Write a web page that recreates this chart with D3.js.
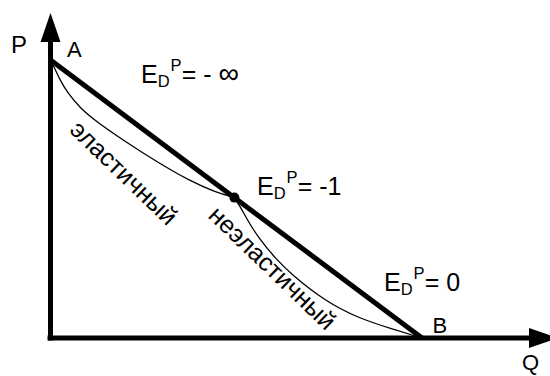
<!DOCTYPE html>
<html>
<head>
<meta charset="utf-8">
<script src="https://cdn.jsdelivr.net/npm/d3@7"></script>
<style>
  html, body { margin: 0; padding: 0; background: #fff; }
  svg { display: block; }
  text { font-family: "Liberation Sans", Arial, sans-serif; fill: #000; }
</style>
</head>
<body>
<svg id="chart" width="550" height="376"></svg>
<script>
// ---- data (model units: Q along x, P along y) ----
const demandLine = [[0, 10], [10, 0]];               // A -> B
const elasticCurve = [[0, 10], [0.121, 9.676], [0.256, 9.281], [0.444, 8.849], [0.794, 8.273],
                      [1.252, 7.770], [1.952, 7.122], [2.867, 6.331], [3.755, 5.647], [4.428, 5.252],
                      [4.95, 5.05]];
const inelasticCurve = [[4.95, 5.05], [5.128, 4.676], [5.316, 4.209], [5.585, 3.633], [6.043, 2.878],
                        [6.501, 2.266], [7.389, 1.331], [8.277, 0.719], [9.192, 0.324], [10, 0]];
const unitPoint = [4.95, 5.05];
const axisExtentQ = [-0.08, 13.66];
const axisExtentP = [-0.09, 11.69];
const pointNames = ["A", "B"];
const axisNames = ["P", "Q"];
const elasticityValues = ["- ", "-1", "0"];
const elasticitySymbols = ["\u221E", "", ""];
const regionNames = ["эластичный", "неэластичный"];

// ---- scales ----
const x = d3.scaleLinear().domain([0, 10]).range([50.5, 422]);
const y = d3.scaleLinear().domain([0, 10]).range([338, 60]);

const svg = d3.select("#chart");
const line = d3.line().x(d => x(d[0])).y(d => y(d[1]));
const curve = d3.line().x(d => x(d[0])).y(d => y(d[1])).curve(d3.curveBasis);

// ---- axes with arrows ----
const axW = 5, arrLen = 29, arrHalf = 10;
svg.append("line")
  .attr("x1", x(axisExtentQ[0])).attr("x2", x(axisExtentQ[1]) - arrLen + 1)
  .attr("y1", y(0)).attr("y2", y(0))
  .attr("stroke", "#000").attr("stroke-width", axW);
svg.append("line")
  .attr("x1", x(0)).attr("x2", x(0))
  .attr("y1", y(axisExtentP[0])).attr("y2", y(axisExtentP[1]) + arrLen - 1)
  .attr("stroke", "#000").attr("stroke-width", axW);
const tipQ = [x(axisExtentQ[1]), y(0)];
svg.append("polygon")
  .attr("points", [[tipQ[0], tipQ[1]], [tipQ[0] - arrLen, tipQ[1] - arrHalf], [tipQ[0] - arrLen, tipQ[1] + arrHalf]].join(" "))
  .attr("fill", "#000");
const tipP = [x(0), y(axisExtentP[1])];
svg.append("polygon")
  .attr("points", [[tipP[0], tipP[1]], [tipP[0] - arrHalf, tipP[1] + arrLen], [tipP[0] + arrHalf, tipP[1] + arrLen]].join(" "))
  .attr("fill", "#000");

// ---- curves ----
svg.append("path").datum(elasticCurve).attr("d", curve)
  .attr("fill", "none").attr("stroke", "#000").attr("stroke-width", 1.3);
svg.append("path").datum(inelasticCurve).attr("d", curve)
  .attr("fill", "none").attr("stroke", "#000").attr("stroke-width", 1.3);

// ---- demand line ----
svg.append("path").datum(demandLine).attr("d", line)
  .attr("fill", "none").attr("stroke", "#000").attr("stroke-width", 5);

svg.append("circle").attr("cx", x(unitPoint[0])).attr("cy", y(unitPoint[1])).attr("r", 5).attr("fill", "#000");

// ---- labels ----
svg.append("text").attr("x", 11).attr("y", 53).attr("font-size", 24).text(axisNames[0]);
svg.append("text").attr("x", 522).attr("y", 370).attr("font-size", 22).text(axisNames[1]);
svg.append("text").attr("x", 67).attr("y", 57).attr("font-size", 22).text(pointNames[0]);
svg.append("text").attr("x", 432.5).attr("y", 333).attr("font-size", 22).text(pointNames[1]);

const ePos = [[141, 83], [257, 195], [384, 291]];
elasticityValues.forEach((v, i) => {
  const t = svg.append("text").attr("x", ePos[i][0]).attr("y", ePos[i][1]).attr("font-size", 25);
  t.append("tspan").text("E");
  t.append("tspan").attr("font-size", 16.5).attr("dy", 4).text("D");
  t.append("tspan").attr("font-size", 16.5).attr("dy", -16).attr("dx", 1).text("P");
  t.append("tspan").attr("dy", 12).text("= " + v);
  if (elasticitySymbols[i]) {
    t.append("tspan").attr("font-size", 29).text(elasticitySymbols[i]);
  }
});

const rPos = [[118, 179], [266.5, 274]];
regionNames.forEach((v, i) => {
  svg.append("text")
    .attr("transform", `translate(${rPos[i][0]},${rPos[i][1]}) rotate(44)`)
    .attr("text-anchor", "middle").attr("font-size", 25).text(v);
});
</script>
</body>
</html>
